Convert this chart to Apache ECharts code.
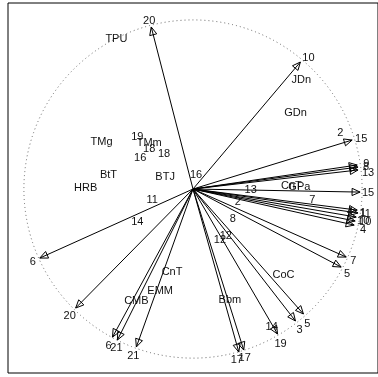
<!DOCTYPE html>
<html>
<head>
<meta charset="utf-8">
<script src="https://cdn.jsdelivr.net/npm/echarts@6/dist/echarts.min.js"></script>
<style>
  html, body { margin: 0; padding: 0; background: #fff; }
  #chart { width: 378px; height: 377px; }
</style>
</head>
<body>
<div id="chart"></div>
<script>
// Vector tips (scores scaled to the unit correlation circle) and their labels
const arrowTipX = [-0.247, 0.635, 0.941, 0.971, 0.976, 0.976, 0.988, 0.971, 0.976, 0.965, 0.959, 0.953,
                   0.906, 0.876, 0.653, 0.606, 0.500, 0.271, 0.300, -0.335, -0.476, -0.447, -0.694, -0.906];
const arrowTipY = [0.953, 0.747, 0.288, 0.141, 0.129, 0.112, -0.018, -0.124, -0.141, -0.165, -0.188, -0.212,
                   -0.400, -0.459, -0.735, -0.776, -0.853, -0.959, -0.947, -0.929, -0.871, -0.888, -0.700, -0.406];
const arrowTipLabel = ['20', '10', '15', '9', '8', '13', '15', '11', '1', '10', '10', '4',
                       '7', '5', '5', '3', '19', '17', '17', '21', '6', '21', '20', '6'];

// Numbered point scores
const pointX = [0.871, 0.018, 0.341, 0.706, 0.265, 0.235, 0.159, 0.194, -0.241, -0.329, 0.929, 0.465,
                -0.329, -0.259, -0.171, -0.312];
const pointY = [0.329, 0.082, -0.006, -0.065, -0.076, -0.176, -0.300, -0.276, -0.065, -0.194, -0.135, -0.812,
                0.306, 0.235, 0.206, 0.182];
const pointLabel = ['2', '16', '13', '7', '2', '8', '12', '12', '11', '14', '4', '14',
                    '19', '18', '18', '16'];

// Named scores
const nameX = [-0.453, -0.541, -0.259, -0.500, -0.635, -0.165, 0.641, 0.606, -0.124, -0.194, -0.335, 0.218,
               0.535, 0.582, 0.629];
const nameY = [0.882, 0.276, 0.271, 0.082, 0.006, 0.071, 0.641, 0.447, -0.488, -0.600, -0.659, -0.653,
               -0.506, 0.018, 0.012];
const nameLabel = ['TPU', 'TMg', 'TMm', 'BtT', 'HRB', 'BTJ', 'JDn', 'GDn', 'CnT', 'EMM', 'CMB', 'Bbm',
                   'CoC', 'CnT', 'GPa'];

// Radius of the equilibrium circle, in axis units
const circleRadius = 1;

// Pixel nudges of each tip label away from its arrowhead
const tipLabelDx = [-2, 8, 9, 9, 8, 10, 8, 8, 5, 9, 8, 9, 7, 6, 4, 4, 3, -2, 1, -3, -4, -1, -6, -7];
const tipLabelDy = [-6, -4, -1, -1, 0, 3, 1, 4, 0, 5, 0, 5, 4, 7, 10, 9, 10, 8, 8, 9, 9, 8, 8, 4];

const FONT = '11px "Liberation Sans", Arial, sans-serif';
const INK = '#111';

const chart = echarts.init(document.getElementById('chart'), null, { renderer: 'canvas' });

const textItem = (api, dx, dy, text) => {
  const p = api.coord([api.value(0), api.value(1)]);
  return {
    type: 'text',
    x: p[0] + dx,
    y: p[1] + dy,
    style: { text: text, fill: INK, font: FONT, align: 'center', verticalAlign: 'middle' }
  };
};

chart.setOption({
  animation: false,
  backgroundColor: '#fff',
  grid: {
    left: 8, top: 3, width: 372, height: 370,
    show: true, borderColor: '#000', borderWidth: 1, backgroundColor: 'transparent'
  },
  xAxis: { type: 'value', min: -1.094, max: 1.094, show: false },
  yAxis: { type: 'value', min: -1.082, max: 1.094, show: false },
  series: [
    {
      // dotted circle of radius 1 around the origin
      type: 'custom',
      coordinateSystem: 'cartesian2d',
      clip: false,
      silent: true,
      data: [[0, 0]],
      renderItem: (params, api) => {
        const c = api.coord([api.value(0), api.value(1)]);
        const r = api.size([circleRadius, 0])[0];
        return {
          type: 'circle',
          shape: { cx: c[0], cy: c[1], r: r },
          style: { fill: null, stroke: '#666', lineWidth: 1, lineDash: [1, 3] }
        };
      }
    },
    {
      // vectors from the origin, open triangular heads
      type: 'custom',
      coordinateSystem: 'cartesian2d',
      clip: false,
      silent: true,
      data: arrowTipX.map((x, i) => [x, arrowTipY[i]]),
      renderItem: (params, api) => {
        const o = api.coord([0, 0]);
        const t = api.coord([api.value(0), api.value(1)]);
        const dx = t[0] - o[0], dy = t[1] - o[1];
        const len = Math.hypot(dx, dy);
        const ux = dx / len, uy = dy / len;
        const hl = 8, hw = 3.6;
        const bx = t[0] - ux * hl, by = t[1] - uy * hl;
        return {
          type: 'group',
          children: [
            { type: 'line', shape: { x1: o[0], y1: o[1], x2: t[0], y2: t[1] },
              style: { stroke: '#000', lineWidth: 1 } },
            { type: 'polygon',
              shape: { points: [[t[0], t[1]], [bx - uy * hw, by + ux * hw], [bx + uy * hw, by - ux * hw]] },
              style: { fill: null, stroke: '#000', lineWidth: 1 } }
          ]
        };
      }
    },
    {
      // labels at the vector tips
      type: 'custom',
      coordinateSystem: 'cartesian2d',
      clip: false,
      silent: true,
      data: arrowTipX.map((x, i) => [x, arrowTipY[i]]),
      renderItem: (params, api) =>
        textItem(api, tipLabelDx[params.dataIndex], tipLabelDy[params.dataIndex], arrowTipLabel[params.dataIndex])
    },
    {
      // numbered scores
      type: 'custom',
      coordinateSystem: 'cartesian2d',
      clip: false,
      silent: true,
      data: pointX.map((x, i) => [x, pointY[i]]),
      renderItem: (params, api) => textItem(api, 0, 0, pointLabel[params.dataIndex])
    },
    {
      // named scores
      type: 'custom',
      coordinateSystem: 'cartesian2d',
      clip: false,
      silent: true,
      data: nameX.map((x, i) => [x, nameY[i]]),
      renderItem: (params, api) => textItem(api, 0, 0, nameLabel[params.dataIndex])
    }
  ]
});
</script>
</body>
</html>
